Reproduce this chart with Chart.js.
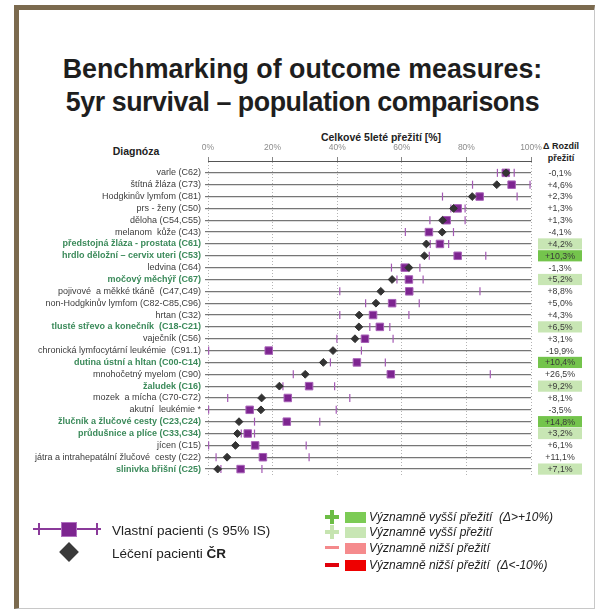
<!DOCTYPE html>
<html>
<head>
<meta charset="utf-8">
<script src="https://cdn.jsdelivr.net/npm/chart.js@4/dist/chart.umd.min.js"></script>
<style>
  html, body { margin: 0; padding: 0; background: #fff; width: 596px; height: 610px; overflow: hidden;
    font-family: "Liberation Sans", Arial, sans-serif; }
  #frame { position: absolute; left: 14px; top: 5px; width: 575px; height: 598px;
    border-left: 5px solid #7b6a4e; border-top: 5px solid #7b6a4e;
    border-right: 1px solid #c8c8c8; border-bottom: 1px solid #c8c8c8; }
  #title { position: absolute; left: 12px; width: 581px; top: 53px; text-align: center;
    font-weight: bold; font-size: 26.8px; line-height: 33px; color: #1e1e1e; }
  #title span { letter-spacing: -0.45px; }
  #wrap { position: absolute; left: 0; top: 0; width: 596px; height: 610px; }
  .hdr { position: absolute; font-weight: bold; color: #222; white-space: nowrap; transform: translate(-50%, -50%); }
  .leg { position: absolute; white-space: nowrap; }
  .ltxt { position: absolute; font-size: 13.5px; color: #222; transform: translateY(-50%); white-space: nowrap; }
  .rtxt { position: absolute; font-size: 12px; font-style: italic; color: #222; transform: translateY(-50%); white-space: nowrap; }
</style>
</head>
<body>
<div id="frame"></div>
<div id="title">Benchmarking of outcome measures:<br><span>5yr survival – population comparisons</span></div>

<div class="hdr" style="left:381px;top:137px;font-size:10.5px;">Celkové 5leté přežití [%]</div>
<div class="hdr" style="left:136px;top:151px;font-size:10.5px;">Diagnóza</div>
<div class="hdr" style="left:561px;top:146px;font-size:9px;">Δ Rozdíl</div>
<div class="hdr" style="left:561px;top:158px;font-size:9px;">přežití</div>

<div id="wrap"><canvas id="c" width="596" height="610"></canvas></div>

<!-- legend: own patients / national patients -->
<div class="leg" style="left:33px;top:528px;width:68px;height:2px;background:#8a3a9a;"></div>
<div class="leg" style="left:38px;top:523px;width:2px;height:12px;background:#8a3a9a;"></div>
<div class="leg" style="left:96px;top:523px;width:2px;height:12px;background:#8a3a9a;"></div>
<div class="leg" style="left:61px;top:522px;width:14px;height:13px;background:#7d2590;border:1px solid #b070c0;"></div>
<div class="ltxt" style="left:112px;top:530px;">Vlastní pacienti (s 95% IS)</div>
<div class="leg" style="left:62px;top:545px;width:14px;height:14px;background:#3a3a3a;transform:rotate(45deg);"></div>
<div class="ltxt" style="left:112px;top:553px;">Léčení pacienti <b>ČR</b></div>

<!-- legend: significance colours -->
<div class="leg" style="left:325px;top:515px;width:14px;height:4px;background:#6cbd45;"></div>
<div class="leg" style="left:330px;top:510px;width:4px;height:14px;background:#6cbd45;"></div>
<div class="leg" style="left:345px;top:512px;width:21px;height:11px;background:#7ccb55;"></div>
<div class="rtxt" style="left:369px;top:517px;">Významně vyšší přežití &nbsp;(Δ&gt;+10%)</div>

<div class="leg" style="left:325px;top:530px;width:14px;height:4px;background:#c6e4b0;"></div>
<div class="leg" style="left:330px;top:525px;width:4px;height:14px;background:#c6e4b0;"></div>
<div class="leg" style="left:345px;top:527px;width:21px;height:11px;background:#c8e6b4;"></div>
<div class="rtxt" style="left:369px;top:532px;">Významně vyšší přežití</div>

<div class="leg" style="left:325px;top:546px;width:14px;height:3px;background:#f4898b;"></div>
<div class="leg" style="left:345px;top:543px;width:21px;height:11px;background:#f58b8d;"></div>
<div class="rtxt" style="left:369px;top:548px;">Významně nižší přežití</div>

<div class="leg" style="left:325px;top:563px;width:14px;height:4px;background:#e0000b;"></div>
<div class="leg" style="left:345px;top:560px;width:21px;height:11px;background:#ee0000;"></div>
<div class="rtxt" style="left:369px;top:565px;">Významně nižší přežití &nbsp;(Δ&lt;-10%)</div>

<script>
// Diagnoses, top to bottom
const categories = [
  'varle (C62)',
  'štítná žláza (C73)',
  'Hodgkinův lymfom (C81)',
  'prs - ženy (C50)',
  'děloha (C54,C55)',
  'melanom  kůže (C43)',
  'předstojná žláza - prostata (C61)',
  'hrdlo děložní – cervix uteri (C53)',
  'ledvina (C64)',
  'močový měchýř (C67)',
  'pojivové  a měkké tkáně  (C47,C49)',
  'non-Hodgkinův lymfom (C82-C85,C96)',
  'hrtan (C32)',
  'tlusté střevo a konečník  (C18-C21)',
  'vaječník (C56)',
  'chronická lymfocytární leukémie  (C91.1)',
  'dutina ústní a hltan (C00-C14)',
  'mnohočetný myelom (C90)',
  'žaludek (C16)',
  'mozek  a mícha (C70-C72)',
  'akutní  leukémie *',
  'žlučník a žlučové cesty (C23,C24)',
  'průdušnice a plíce (C33,C34)',
  'jícen (C15)',
  'játra a intrahepatální žlučové  cesty (C22)',
  'slinivka břišní (C25)'
];

// 5-year survival of all patients treated in ČR [%]
const crValues = [92.3, 89.4, 81.8, 76.0, 72.6, 72.5, 67.6, 67.0, 62.2, 57.0, 53.5, 52.0, 46.8,
                  46.7, 45.5, 38.7, 35.7, 30.1, 22.1, 16.6, 16.4, 9.6, 9.1, 8.5, 5.9, 3.0];

// Difference own patients minus ČR [percentage points]
const diffValues = [-0.1, 4.6, 2.3, 1.3, 1.3, -4.1, 4.2, 10.3, -1.3, 5.2, 8.8, 5.0, 4.3,
                    6.5, 3.1, -19.9, 10.4, 26.5, 9.2, 8.1, -3.5, 14.8, 3.2, 6.1, 11.1, 7.1];

// 95% confidence interval of own patients' survival [%]
const ciLow  = [89.6, 81.9, 72.6, 75.2, 68.7, 61.1, 68.8, 68.5, 56.8, 58.5, 40.8, 48.8, 40.8,
                50.1, 39.9, 0.2, 37.9, 26.4, 23.2, 6.1, 0.2, 14.4, 10.3, 0.2, 2.5, 4.0];
const ciHigh = [94.8, 99.7, 95.7, 79.6, 79.6, 76.0, 74.5, 86.0, 65.6, 66.6, 84.2, 65.4, 62.2,
                56.3, 57.3, 47.5, 54.9, 87.4, 39.2, 43.9, 39.7, 34.6, 14.4, 30.4, 31.3, 16.7];

// Significance: 2 = significantly higher (Δ>+10%), 1 = significantly higher, 0 = not significant
const sigLevels = [0, 0, 0, 0, 0, 0, 1, 2, 0, 1, 0, 0, 0, 1, 0, 0, 2, 0, 1, 0, 0, 2, 1, 0, 0, 1];

// x-axis tick values [%]
const xTicks = [0, 20, 40, 60, 80, 100];

const ownValues = crValues.map((v, i) => +(v + diffValues[i]).toFixed(1));

const FONT = '"Liberation Sans", Arial, sans-serif';
const SIG_BG = { 1: '#c8e6b4', 2: '#74c44c' };

const fmtDiff = d => (d > 0 ? '+' : '') + d.toFixed(1).replace('.', ',') + '%';

// Draws the Δ column to the right of the plot
const diffColumn = {
  id: 'diffColumn',
  afterDraw(chart) {
    const { ctx, scales: { y } } = chart;
    ctx.save();
    ctx.font = '8.8px ' + FONT;
    ctx.textAlign = 'center';
    ctx.textBaseline = 'middle';
    diffValues.forEach((d, i) => {
      const py = y.getPixelForValue(i);
      if (sigLevels[i]) {
        ctx.fillStyle = SIG_BG[sigLevels[i]];
        ctx.fillRect(538, py - 5.6, 44, 11.2);
      }
      ctx.fillStyle = '#3a3a3a';
      ctx.fillText(fmtDiff(d), 560, py + 0.5);
    });
    ctx.restore();
  }
};

new Chart(document.getElementById('c'), {
  type: 'scatter',
  data: {
    datasets: [
      {
        label: 'ČR',
        data: crValues.map((v, i) => ({ x: v, y: i })),
        pointStyle: 'rectRot',
        radius: 3.9,
        backgroundColor: '#333333',
        borderColor: '#333333',
        borderWidth: 1,
        order: 0
      },
      {
        label: 'Vlastní',
        data: ownValues.map((v, i) => ({ x: v, y: i })),
        pointStyle: 'rect',
        radius: 5.3,
        backgroundColor: '#7d2590',
        borderColor: '#a862b8',
        borderWidth: 1,
        order: 1
      },
      {
        label: 'IS dolní',
        data: ciLow.map((v, i) => ({ x: v, y: i })),
        pointStyle: 'line',
        rotation: 90,
        radius: 4,
        borderColor: '#a45ab4',
        borderWidth: 1.2,
        order: 2
      },
      {
        label: 'IS horní',
        data: ciHigh.map((v, i) => ({ x: v, y: i })),
        pointStyle: 'line',
        rotation: 90,
        radius: 4,
        borderColor: '#a45ab4',
        borderWidth: 1.2,
        order: 2
      }
    ]
  },
  options: {
    responsive: false,
    animation: false,
    events: [],
    layout: { padding: { left: 0, top: 130, right: 65, bottom: 135 } },
    plugins: { legend: { display: false }, tooltip: { enabled: false } },
    scales: {
      x: {
        type: 'linear',
        position: 'top',
        min: 0,
        max: 100,
        afterFit: s => { s.height = 31; },
        afterBuildTicks: s => { s.ticks = xTicks.map(v => ({ value: v })); },
        ticks: {
          callback: v => v + '%',
          color: '#8c8c8c',
          font: { family: FONT, size: 8.5 },
          padding: 4,
          maxRotation: 0
        },
        grid: { color: '#b4b4b4', lineWidth: 1, tickLength: 4, tickColor: '#888' },
        border: { display: true, color: '#555', width: 1, dash: [1, 2] }
      },
      y: {
        type: 'linear',
        reverse: true,
        min: -1,
        max: 25.5,
        afterFit: s => { s.width = 208; },
        afterBuildTicks: s => { s.ticks = categories.map((_, i) => ({ value: i })); },
        ticks: {
          callback: v => categories[v],
          color: ctx => sigLevels[ctx.index] ? '#3b8a5a' : '#3c3c3c',
          font: ctx => ({ family: FONT, size: 9, weight: sigLevels[ctx.index] ? 'bold' : 'normal' }),
          padding: 4,
          autoSkip: false
        },
        grid: { color: '#767676', lineWidth: 1.2, tickLength: 3 },
        border: { display: false }
      }
    }
  },
  plugins: [diffColumn]
});
</script>
</body>
</html>
